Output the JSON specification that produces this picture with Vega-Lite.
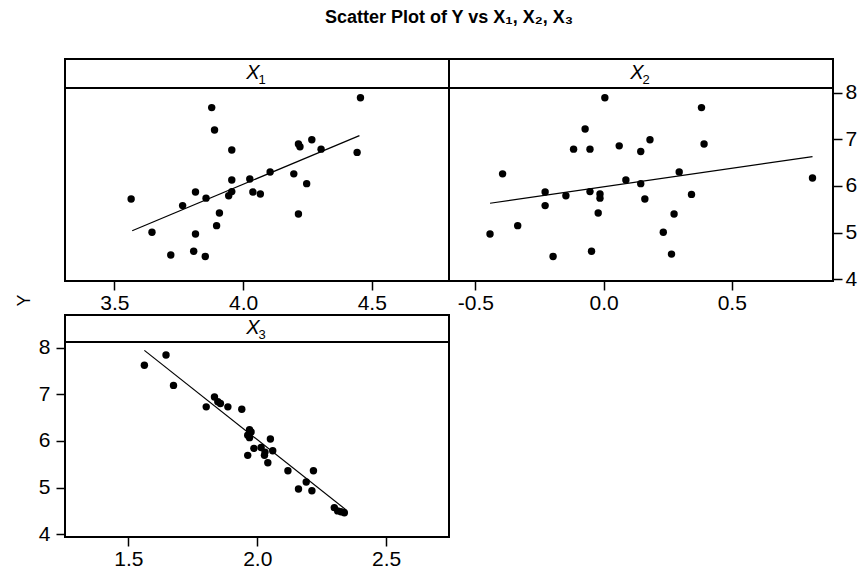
{
  "$schema": "https://vega.github.io/schema/vega-lite/v6.json",
  "background": "white",
  "padding": {"left": 14, "top": 9, "right": 4, "bottom": 4},
  "title": {
    "text": "Scatter Plot of Y vs X₁, X₂, X₃",
    "font": "Liberation Sans",
    "fontSize": 18,
    "fontWeight": "bold",
    "color": "black",
    "anchor": "start",
    "align": "center",
    "dx": 384,
    "frame": "group",
    "offset": 30
  },
  "config": {
    "font": "Liberation Sans",
    "view": {"stroke": "black", "strokeWidth": 2, "fill": "white"},
    "axis": {
      "domain": false,
      "grid": false,
      "ticks": true,
      "tickColor": "black",
      "tickWidth": 1.5,
      "tickSize": 9,
      "labelFont": "Liberation Sans",
      "labelFontSize": 21,
      "labelColor": "black",
      "labelPadding": 2,
      "title": null
    }
  },
  "datasets": {
    "x1": [
      {"x": 4.456, "y": 7.89}, {"x": 3.878, "y": 7.68}, {"x": 3.889, "y": 7.20}, {"x": 3.956, "y": 6.77},
      {"x": 4.215, "y": 6.90}, {"x": 4.221, "y": 6.84}, {"x": 4.267, "y": 6.99}, {"x": 4.303, "y": 6.79},
      {"x": 4.443, "y": 6.72}, {"x": 4.105, "y": 6.30}, {"x": 4.197, "y": 6.26}, {"x": 4.247, "y": 6.05},
      {"x": 4.026, "y": 6.15}, {"x": 3.956, "y": 6.13}, {"x": 3.956, "y": 5.88}, {"x": 3.944, "y": 5.79},
      {"x": 4.038, "y": 5.87}, {"x": 4.067, "y": 5.83}, {"x": 3.815, "y": 5.87}, {"x": 3.856, "y": 5.74},
      {"x": 3.565, "y": 5.72}, {"x": 3.765, "y": 5.58}, {"x": 3.908, "y": 5.42}, {"x": 4.215, "y": 5.40},
      {"x": 3.897, "y": 5.15}, {"x": 3.646, "y": 5.01}, {"x": 3.815, "y": 4.97}, {"x": 3.719, "y": 4.52},
      {"x": 3.808, "y": 4.60}, {"x": 3.853, "y": 4.49}
    ],
    "x1fit": [{"x": 3.569, "y": 5.04}, {"x": 4.452, "y": 7.08}],
    "x2": [
      {"x": 0.005, "y": 7.89}, {"x": 0.382, "y": 7.68}, {"x": -0.072, "y": 7.22}, {"x": -0.117, "y": 6.79},
      {"x": -0.053, "y": 6.79}, {"x": 0.061, "y": 6.86}, {"x": 0.145, "y": 6.74}, {"x": 0.181, "y": 6.99},
      {"x": 0.392, "y": 6.90}, {"x": -0.394, "y": 6.26}, {"x": 0.295, "y": 6.30}, {"x": 0.815, "y": 6.17},
      {"x": 0.087, "y": 6.13}, {"x": 0.145, "y": 6.05}, {"x": -0.228, "y": 5.87}, {"x": -0.147, "y": 5.79},
      {"x": -0.053, "y": 5.88}, {"x": -0.014, "y": 5.83}, {"x": -0.014, "y": 5.74}, {"x": 0.161, "y": 5.72},
      {"x": 0.343, "y": 5.82}, {"x": -0.228, "y": 5.58}, {"x": -0.021, "y": 5.42}, {"x": 0.275, "y": 5.40},
      {"x": -0.335, "y": 5.15}, {"x": -0.443, "y": 4.97}, {"x": 0.233, "y": 5.01}, {"x": -0.197, "y": 4.49},
      {"x": -0.047, "y": 4.60}, {"x": 0.265, "y": 4.54}
    ],
    "x2fit": [{"x": -0.443, "y": 5.63}, {"x": 0.815, "y": 6.63}],
    "x3": [
      {"x": 1.562, "y": 7.62}, {"x": 1.646, "y": 7.84}, {"x": 1.675, "y": 7.19}, {"x": 1.802, "y": 6.73},
      {"x": 1.834, "y": 6.94}, {"x": 1.847, "y": 6.84}, {"x": 1.857, "y": 6.80}, {"x": 1.886, "y": 6.73},
      {"x": 1.940, "y": 6.68}, {"x": 1.970, "y": 6.24}, {"x": 1.976, "y": 6.19}, {"x": 1.963, "y": 6.12},
      {"x": 1.970, "y": 6.07}, {"x": 2.051, "y": 6.04}, {"x": 1.987, "y": 5.84}, {"x": 2.015, "y": 5.86},
      {"x": 2.030, "y": 5.76}, {"x": 2.060, "y": 5.79}, {"x": 1.963, "y": 5.69}, {"x": 2.028, "y": 5.69},
      {"x": 2.041, "y": 5.53}, {"x": 2.119, "y": 5.36}, {"x": 2.218, "y": 5.36}, {"x": 2.190, "y": 5.12},
      {"x": 2.160, "y": 4.97}, {"x": 2.212, "y": 4.93}, {"x": 2.299, "y": 4.57}, {"x": 2.312, "y": 4.50},
      {"x": 2.338, "y": 4.46}, {"x": 2.325, "y": 4.48}
    ],
    "x3fit": [{"x": 1.562, "y": 7.94}, {"x": 2.345, "y": 4.52}],
    "s1": [{"l": "X", "s": "1"}],
    "s2": [{"l": "X", "s": "2"}],
    "s3": [{"l": "X", "s": "3"}],
    "none": []
  },
  "bounds": "flush",
  "align": "each",
  "columns": 2,
  "spacing": {"row": 0, "column": 0},
  "concat": [
    {
      "width": 384, "height": 29,
      "view": {"stroke": "black", "strokeWidth": 2, "fill": "white"},
      "data": {"name": "s1"},
      "layer": [
        {"mark": {"type": "rect", "fill": "white", "stroke": "black", "strokeWidth": 2}, "encoding": {}},
        {"mark": {"type": "text", "fontStyle": "italic", "fontSize": 20, "dx": -4, "dy": -1, "baseline": "middle", "align": "center", "color": "black"}, "encoding": {"text": {"field": "l"}}},
        {"mark": {"type": "text", "fontSize": 13, "dx": 5, "dy": 6, "baseline": "middle", "align": "center", "color": "black"}, "encoding": {"text": {"field": "s"}}}
      ]
    },
    {
      "width": 384, "height": 29,
      "view": {"stroke": "black", "strokeWidth": 2, "fill": "white"},
      "data": {"name": "s2"},
      "layer": [
        {"mark": {"type": "rect", "fill": "white", "stroke": "black", "strokeWidth": 2}, "encoding": {}},
        {"mark": {"type": "text", "fontStyle": "italic", "fontSize": 20, "dx": -4, "dy": -1, "baseline": "middle", "align": "center", "color": "black"}, "encoding": {"text": {"field": "l"}}},
        {"mark": {"type": "text", "fontSize": 13, "dx": 5, "dy": 6, "baseline": "middle", "align": "center", "color": "black"}, "encoding": {"text": {"field": "s"}}}
      ]
    },
    {
      "width": 384, "height": 193,
      "encoding": {
        "x": {"field": "x", "type": "quantitative", "scale": {"domain": [3.308, 4.80], "nice": false, "zero": false}, "axis": {"values": [3.5, 4.0, 4.5], "format": ".1f"}},
        "y": {"field": "y", "type": "quantitative", "scale": {"domain": [3.964, 8.10], "nice": false, "zero": false}, "axis": null}
      },
      "layer": [
        {"data": {"name": "x1"}, "mark": {"type": "circle", "size": 55, "color": "black", "opacity": 1}},
        {"data": {"name": "x1fit"}, "mark": {"type": "line", "color": "black", "strokeWidth": 1.2}}
      ]
    },
    {
      "width": 384, "height": 193,
      "encoding": {
        "x": {"field": "x", "type": "quantitative", "scale": {"domain": [-0.603, 0.895], "nice": false, "zero": false}, "axis": {"values": [-0.5, 0, 0.5], "labelExpr": "replace(format(datum.value, '.1f'), '−', '-')"}},
        "y": {"field": "y", "type": "quantitative", "scale": {"domain": [3.964, 8.10], "nice": false, "zero": false}, "axis": {"orient": "right", "values": [4, 5, 6, 7, 8], "format": "d", "labelPadding": 3}}
      },
      "layer": [
        {"data": {"name": "x2"}, "mark": {"type": "circle", "size": 55, "color": "black", "opacity": 1}},
        {"data": {"name": "x2fit"}, "mark": {"type": "line", "color": "black", "strokeWidth": 1.2}}
      ]
    },
    {
      "width": 384, "height": 34,
      "view": {"stroke": null, "fill": null},
      "data": {"name": "none"},
      "mark": "text"
    },
    {
      "width": 384, "height": 34,
      "view": {"stroke": null, "fill": null},
      "data": {"name": "none"},
      "mark": "text"
    },
    {
      "width": 384, "height": 27,
      "view": {"stroke": "black", "strokeWidth": 2, "fill": "white"},
      "data": {"name": "s3"},
      "layer": [
        {"mark": {"type": "rect", "fill": "white", "stroke": "black", "strokeWidth": 2}, "encoding": {}},
        {"mark": {"type": "text", "fontStyle": "italic", "fontSize": 20, "dx": -4, "dy": -1, "baseline": "middle", "align": "center", "color": "black"}, "encoding": {"text": {"field": "l"}}},
        {"mark": {"type": "text", "fontSize": 13, "dx": 5, "dy": 6, "baseline": "middle", "align": "center", "color": "black"}, "encoding": {"text": {"field": "s"}}}
      ]
    },
    {
      "width": 384, "height": 27,
      "view": {"stroke": null, "fill": null},
      "data": {"name": "none"},
      "mark": "text"
    },
    {
      "width": 384, "height": 195,
      "encoding": {
        "x": {"field": "x", "type": "quantitative", "scale": {"domain": [1.254, 2.744], "nice": false, "zero": false}, "axis": {"values": [1.5, 2.0, 2.5], "format": ".1f"}},
        "y": {"field": "y", "type": "quantitative", "scale": {"domain": [3.94, 8.12], "nice": false, "zero": false}, "axis": {"orient": "left", "values": [4, 5, 6, 7, 8], "format": "d", "labelPadding": 6, "title": "Y", "titleFont": "Liberation Sans", "titleFontSize": 18, "titleFontWeight": "normal", "titleColor": "black", "titleAngle": 270, "titleX": -36, "titleY": -42, "titleAlign": "center", "titleBaseline": "alphabetic"}}
      },
      "layer": [
        {"data": {"name": "x3"}, "mark": {"type": "circle", "size": 55, "color": "black", "opacity": 1}},
        {"data": {"name": "x3fit"}, "mark": {"type": "line", "color": "black", "strokeWidth": 1.2}}
      ]
    }
  ]
}
